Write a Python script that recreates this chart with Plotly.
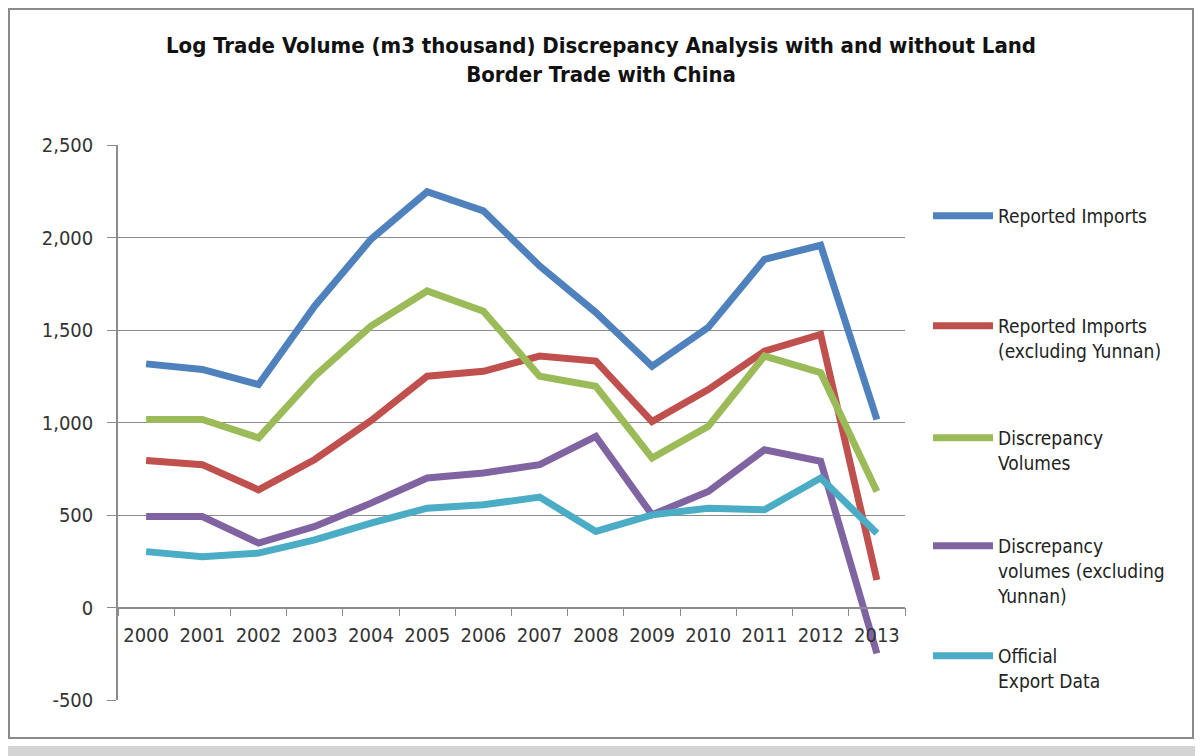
import plotly.graph_objects as go

years = ["2000", "2001", "2002", "2003", "2004", "2005", "2006",
         "2007", "2008", "2009", "2010", "2011", "2012", "2013"]

reported_imports = [1317, 1287, 1205, 1630, 1990, 2247, 2144,
                    1846, 1595, 1304, 1514, 1882, 1958, 1016]
reported_imports_ex_yunnan = [794, 772, 636, 800, 1010, 1250, 1277,
                              1359, 1332, 1005, 1178, 1386, 1476, 149]
discrepancy_volumes = [1016, 1016, 917, 1250, 1521, 1711, 1602,
                       1250, 1196, 808, 979, 1359, 1269, 627]
discrepancy_ex_yunnan = [492, 492, 348, 438, 564, 700, 727,
                         772, 925, 501, 627, 853, 790, -248]
official_exports = [302, 275, 294, 366, 456, 537, 555,
                    597, 411, 501, 537, 528, 700, 402]

series_names = ["Reported Imports",
                "Reported Imports<br>(excluding Yunnan)",
                "Discrepancy<br>Volumes",
                "Discrepancy<br>volumes (excluding<br>Yunnan)",
                "Official<br>Export Data"]
series_values = [reported_imports, reported_imports_ex_yunnan,
                 discrepancy_volumes, discrepancy_ex_yunnan, official_exports]
series_colors = ["#4F81BD", "#C0504D", "#9BBB59", "#8064A2", "#4BACC6"]

y_tick_values = [-500, 0, 500, 1000, 1500, 2000, 2500]
y_tick_labels = ["-500", "0", "500", "1,000", "1,500", "2,000", "2,500"]

title_text = ("Log Trade Volume (m3 thousand) Discrepancy Analysis with and without Land"
              "<br>Border Trade with China")

# page body has an 8px margin: figure occupies screen 8..1203 x 8..756
OFF = 8
SW, SH = 1203, 756
W, H = SW - OFF, SH - OFF
L, R, T, B = 118, 905, 145, 700  # plot area in screen px


def px_x(x):
    return (x - L) / (R - L)


def px_y(y):
    return (B - y) / (B - T)


FONT = "DejaVu Sans Condensed, Liberation Sans Narrow, Arial Narrow, Liberation Sans, sans-serif"

fig = go.Figure()
legend_tops = [197, 307, 419, 527, 637]
for i, (name, vals, col) in enumerate(zip(series_names, series_values, series_colors)):
    lg = "legend" if i == 0 else f"legend{i + 1}"
    fig.add_trace(go.Scatter(
        x=years, y=vals, mode="lines", name=name,
        line=dict(color=col, width=7),
        legend=lg,
    ))

legend_common = dict(
    x=px_x(928), xanchor="left", yanchor="top",
    bgcolor="rgba(0,0,0,0)", borderwidth=0,
    font=dict(family=FONT, size=19, color="#222"),
    itemwidth=60, valign="top",
)
layout_legends = {}
for i, top in enumerate(legend_tops):
    key = "legend" if i == 0 else f"legend{i + 1}"
    layout_legends[key] = dict(legend_common, y=px_y(top))

fig.update_layout(
    width=W, height=H,
    margin=dict(l=L - OFF, r=SW - R, t=T - OFF, b=SH - B),
    paper_bgcolor="white", plot_bgcolor="white",
    title=dict(text=title_text, x=(601 - OFF) / W, xanchor="center", xref="container",
               y=1 - 45 / H, yanchor="top",
               font=dict(family=FONT, size=22, color="#111", weight="bold")),
    showlegend=True,
    **layout_legends,
)

fig.update_yaxes(
    range=[-500, 2500], tickvals=y_tick_values, ticktext=y_tick_labels,
    showgrid=True, gridcolor="#8c8c8c", gridwidth=1,
    zeroline=False, showline=True, linecolor="#8c8c8c", linewidth=1.5,
    ticks="outside", ticklen=9, tickcolor="#8c8c8c",
    ticklabelstandoff=10,
    tickfont=dict(family=FONT, size=20, color="#333"),
)
fig.update_xaxes(
    type="category", range=[-0.5, 13.5],
    anchor="free", position=1 / 6,
    showgrid=False, zeroline=False, showline=True, linecolor="#8c8c8c", linewidth=1.5,
    ticks="outside", ticklen=8, tickcolor="#8c8c8c", tickson="boundaries",
    ticklabelstandoff=10,
    tickfont=dict(family=FONT, size=20, color="#333"),
)

# outer frame and gray bands
fig.add_shape(type="rect", xref="paper", yref="paper",
              x0=px_x(9), x1=px_x(1193), y0=px_y(738), y1=px_y(9),
              line=dict(color="#8a8a8a", width=2), fillcolor="rgba(0,0,0,0)", layer="below")
fig.add_shape(type="rect", xref="paper", yref="paper",
              x0=px_x(OFF), x1=px_x(SW), y0=px_y(SH), y1=px_y(746),
              line=dict(width=0), fillcolor="#d4d4d4", layer="below")
fig.add_shape(type="rect", xref="paper", yref="paper",
              x0=px_x(1197), x1=px_x(SW), y0=px_y(SH), y1=px_y(OFF),
              line=dict(width=0), fillcolor="#d4d4d4", layer="below")

fig.write_html("out.html")
